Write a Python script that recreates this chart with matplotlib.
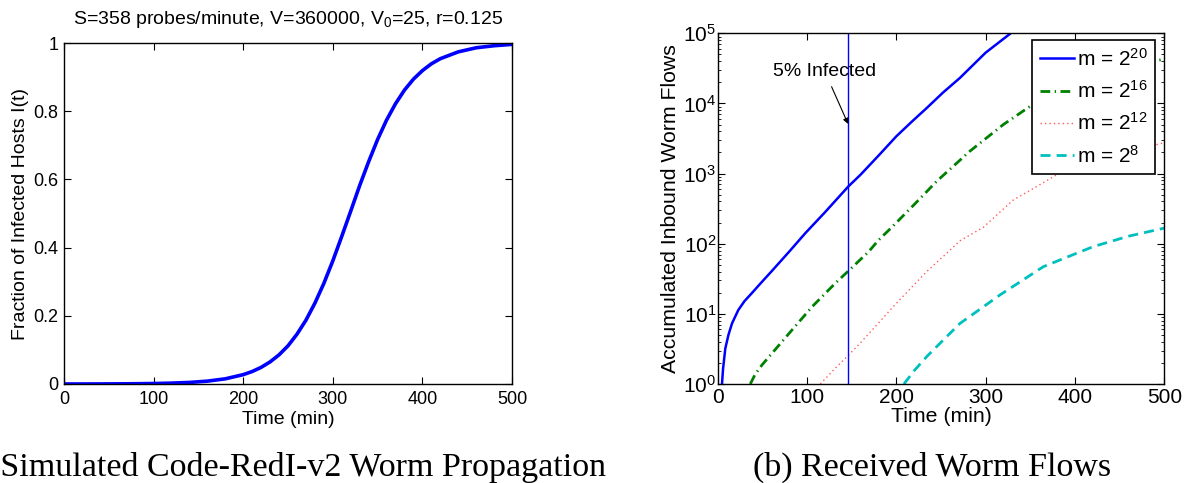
import matplotlib
matplotlib.use("Agg")
import matplotlib.pyplot as plt
from matplotlib.ticker import LogLocator, NullFormatter

plt.rcParams['font.family'] = ['Liberation Sans', 'DejaVu Sans']
plt.rcParams['mathtext.fontset'] = 'custom'
plt.rcParams['mathtext.rm'] = 'Liberation Sans'
plt.rcParams['mathtext.it'] = 'Liberation Sans:italic'

# ---------------- data: left panel (fraction infected) ----------------
t_frac = [0, 25, 50, 75, 100, 120, 140, 160, 180, 200, 210, 220, 230, 240, 250,
          260, 270, 280, 290, 300, 310, 320, 330, 340, 350, 360, 370, 380, 390,
          400, 410, 420, 440, 460, 480, 500]
frac_infected = [0.0001, 0.0001, 0.0003, 0.0007, 0.0014, 0.0026, 0.0046, 0.0084,
                 0.0152, 0.0274, 0.0366, 0.0488, 0.0648, 0.0855, 0.112, 0.146,
                 0.187, 0.237, 0.295, 0.361, 0.433, 0.507, 0.582, 0.652, 0.717,
                 0.774, 0.822, 0.862, 0.894, 0.919, 0.939, 0.954, 0.974, 0.986,
                 0.992, 0.996]

# ---------------- data: right panel (accumulated flows) ----------------
t_m20 = [4.8, 6, 8.5, 12, 16, 23, 30, 38, 46, 53, 60, 68, 80, 98, 120, 146, 160,
         180, 200, 218, 234, 252, 271, 300, 328, 350]
flows_m20 = [1, 1.65, 3.2, 5.0, 7.3, 11.3, 15.2, 19.6, 25.5, 32, 40, 52, 77, 141,
             280, 650, 966, 1800, 3400, 5600, 8600, 14200, 23000, 53000, 100000,
             160000]

t_m16 = [36.5, 42, 49.6, 60.8, 83.2, 105.6, 131.6, 145.5, 169, 180.2, 194.8, 220,
         245.2, 265, 282.4, 300, 319.7, 337, 355.2, 380, 400, 430, 460, 500]
flows_m16 = [1, 1.38, 1.87, 2.74, 5.89, 12.6, 27.3, 40, 77, 113, 171, 362, 777,
             1315, 2090, 3150, 4990, 7050, 10160, 14600, 19500, 26200, 33200, 43000]

t_m12 = [114.9, 130, 145.5, 159.3, 180, 196.6, 215, 233.9, 252, 271.2, 297.3, 315,
         331, 355, 383, 400, 430, 460, 500]
flows_m12 = [1, 1.6, 2.51, 3.8, 7.4, 12.7, 22.4, 40, 65, 110, 171, 275, 421, 630,
             1020, 1200, 1620, 2080, 2750]

t_m8 = [208.5, 220, 233.9, 250, 271.2, 290, 316, 340, 364.5, 390, 420.5, 460, 500]
flows_m8 = [1, 1.55, 2.45, 3.93, 7.3, 10.8, 18.6, 29.4, 47, 63.6, 91, 128, 167]

legend_labels = [r'm = $\mathregular{2^{20}}$', r'm = $\mathregular{2^{16}}$',
                 r'm = $\mathregular{2^{12}}$', r'm = $\mathregular{2^{8}}$']
t_five_pct = 146
annot_text = '5% Infected'

title_left = r'S=358 probes/minute, V=360000, V$_\mathregular{0}$=25, r=0.125'
caption_a = '(a) Simulated Code-RedI-v2 Worm Propagation'
caption_b = '(b) Received Worm Flows'

# ---------------- figure ----------------
fig = plt.figure(figsize=(11.94, 4.83), dpi=100)
fsL_tick, fsL_lab = 13, 14
fsR_tick, fsR_lab = 15, 15.3

ax1 = fig.add_axes([64/1194, 99/483, 448/1194, 341/483])
ax1.plot(t_frac, frac_infected, color='#0000ff', lw=2.6, solid_capstyle='butt')
ax1.set_xlim(0, 500)
ax1.set_ylim(0, 1)
ax1.set_xticks([0, 100, 200, 300, 400, 500])
ax1.set_yticks([0, 0.2, 0.4, 0.6, 0.8, 1])
ax1.set_yticklabels(['0', '0.2', '0.4', '0.6', '0.8', '1'])
ax1.set_xlabel('Time (min)', fontsize=fsL_lab, labelpad=2)
ax1.set_ylabel('Fraction of Infected Hosts I(t)', fontsize=fsL_lab, labelpad=3)
ax1.set_title(title_left, fontsize=fsL_lab, pad=14)
ax1.tick_params(direction='in', top=True, right=True, length=5, width=0.8,
                labelsize=fsL_tick)
ax1.tick_params(axis='x', pad=5)
ax1.tick_params(axis='y', pad=4)

ax2 = fig.add_axes([717.7/1194, 99/483, 446.6/1194, 350.7/483])
ax2.set_yscale('log')
ax2.plot(t_m20, flows_m20, color='#0000ff', lw=1.8, label=legend_labels[0])
ax2.plot(t_m16, flows_m16, color='#008000', lw=2.0, dashes=(3.5, 1.6, 0.5, 1.6),
         label=legend_labels[1])
ax2.plot(t_m12, flows_m12, color='#ff5a5a', lw=1.0, dashes=(1, 2.2),
         label=legend_labels[2])
ax2.plot(t_m8, flows_m8, color='#00bfbf', lw=2.0, dashes=(3.6, 2.2),
         label=legend_labels[3])
ax2.axvline(t_five_pct, color='#0000ff', lw=1.0)
ax2.set_xlim(0, 500)
ax2.set_ylim(1, 1e5)
ax2.set_xticks([0, 100, 200, 300, 400, 500])
ax2.yaxis.set_major_locator(LogLocator(base=10, numticks=10))
ax2.yaxis.set_minor_locator(LogLocator(base=10, subs=range(2, 10), numticks=10))
ax2.yaxis.set_minor_formatter(NullFormatter())
ax2.set_xlabel('Time (min)', fontsize=fsR_lab, labelpad=0)
ax2.set_ylabel('Accumulated Inbound Worm Flows', fontsize=fsR_lab, labelpad=2)
ax2.tick_params(which='major', direction='in', top=True, right=True, length=5,
                width=0.8, labelsize=fsR_tick)
ax2.tick_params(axis='x', which='major', pad=3)
ax2.tick_params(axis='y', which='major', pad=1)
ax2.tick_params(which='minor', direction='in', top=True, right=True, length=2.5,
                width=0.6)
ax2.annotate(annot_text, xy=(t_five_pct, 5100), xytext=(120, 28400),
             fontsize=14, ha='center', va='center',
             arrowprops=dict(arrowstyle='-|>', color='black', lw=0.8,
                             mutation_scale=8, shrinkA=3, shrinkB=0))
leg = ax2.legend(loc='upper right', bbox_to_anchor=(1.0 - 9/446.6, 1.0 - 7/350.7),
                 fontsize=fsR_tick, frameon=True, fancybox=False, edgecolor='black',
                 framealpha=1, handlelength=1.65, handletextpad=0.15,
                 labelspacing=0.5, borderpad=0.35, borderaxespad=0)
leg.get_frame().set_linewidth(1.2)

for ax in (ax1, ax2):
    for s in ax.spines.values():
        s.set_linewidth(1.0)

fig.text(280/1194, 7/483, caption_a, fontsize=24.5, family='Liberation Serif',
         ha='center', va='baseline')
fig.text(932/1194, 7/483, caption_b, fontsize=24.5, family='Liberation Serif',
         ha='center', va='baseline')

fig.savefig('out.png', dpi=100)
